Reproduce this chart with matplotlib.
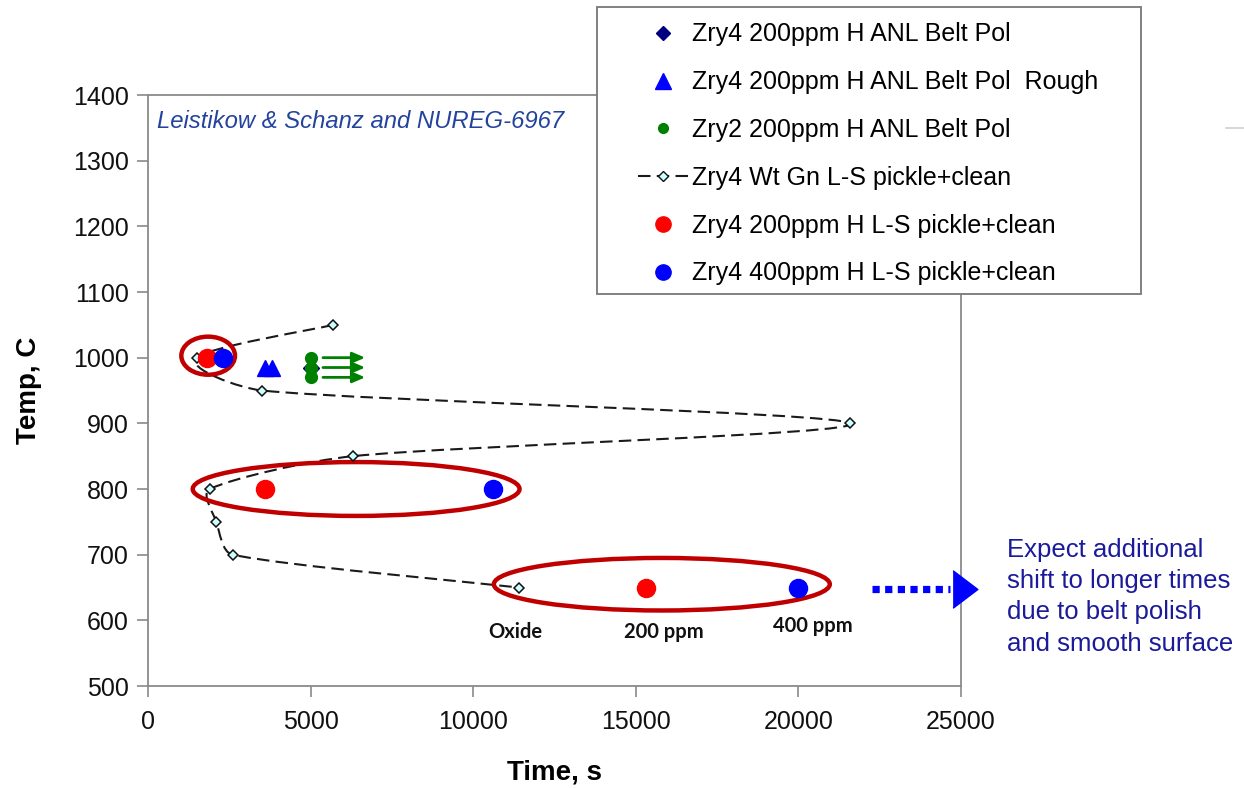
import numpy as np
import matplotlib
matplotlib.use("Agg")
import matplotlib.pyplot as plt
from matplotlib.lines import Line2D
from matplotlib.patches import Ellipse, PathPatch, Rectangle
from matplotlib.path import Path

plt.rcParams['font.family'] = ['Liberation Sans', 'DejaVu Sans']

# data
belt_pol_t = [5000]
belt_pol_T = [985]
belt_rough_t = [3600, 3800]
belt_rough_T = [985, 985]
zry2_t = [5000, 5000, 5000]
zry2_T = [1000, 985, 970]
wtgn_t = [5700, 1500, 3500, 21600, 6300, 1900, 2100, 2600, 11400]
wtgn_T = [1050, 1000, 950, 900, 850, 800, 750, 700, 650]
h200_t = [1800, 3600, 15300]
h200_T = [1000, 800, 650]
h400_t = [2300, 10600, 20000]
h400_T = [1000, 800, 650]

labels = ["Zry4 200ppm H ANL Belt Pol", "Zry4 200ppm H ANL Belt Pol  Rough",
          "Zry2 200ppm H ANL Belt Pol", "Zry4 Wt Gn L-S pickle+clean",
          "Zry4 200ppm H L-S pickle+clean", "Zry4 400ppm H L-S pickle+clean"]

# circled groups: centre time, centre temp, width, height
ring_t = [1850, 6400, 15800]
ring_T = [1003, 800, 655]
ring_w = [1650, 10050, 10330]
ring_h = [58, 82, 80]

ppm_text = ["Oxide", "200 ppm", "400 ppm"]
ppm_t = [11300, 15850, 20450]
ppm_T = [598, 598, 607]

W, H = 1244, 788
fig = plt.figure(figsize=(W / 100, H / 100), dpi=100)
ax = fig.add_axes([148 / W, 1 - 686 / H, (961 - 148) / W, (686 - 95) / H])
ax.set_xlim(0, 25000)
ax.set_ylim(500, 1400)
ax.set_xticks(np.arange(0, 25001, 5000))
ax.set_yticks(np.arange(500, 1401, 100))
for s in ax.spines.values():
    s.set_color('#8a8a8a')
    s.set_linewidth(1.3)
ax.tick_params(axis='both', direction='out', length=8, width=1.2, color='#8a8a8a',
               labelsize=18, labelcolor='#111111')
ax.tick_params(axis='x', pad=9)
ax.tick_params(axis='y', pad=6)

ax.set_xlabel("Time, s", fontsize=20, fontweight='bold')
ax.xaxis.label.set_va('center')
ax.xaxis.set_label_coords(0.5, -0.147)
ax.set_ylabel("Temp, C", fontsize=20, fontweight='bold')
ax.yaxis.label.set_va('center')
ax.yaxis.set_label_coords(-0.146, 0.5)

# smoothed dashed weight-gain curve: bezier through the points in display space,
# tangent handles clamped so short segments do not bulge
pts = ax.transData.transform(np.column_stack([wtgn_t, wtgn_T]))
n = len(pts)


def handle(i, seg_len):
    d = (pts[min(i + 1, n - 1)] - pts[max(i - 1, 0)]) / 6
    m = np.hypot(*d)
    lim = 0.3 * seg_len
    return d * (lim / m) if m > lim else d


verts = [pts[0]]
codes = [Path.MOVETO]
for i in range(n - 1):
    p1, p2 = pts[i], pts[i + 1]
    L = np.hypot(*(p2 - p1))
    verts += [p1 + handle(i, L), p2 - handle(i + 1, L), p2]
    codes += [Path.CURVE4] * 3
verts = ax.transData.inverted().transform(np.array(verts))
curve = PathPatch(Path(verts, codes), fill=False, edgecolor='#1a1a1a', lw=1.5,
                  linestyle=(0, (6, 3)), zorder=2)
ax.add_patch(curve)
ax.plot(wtgn_t, wtgn_T, ls='none', marker='D', ms=5, mfc='#ccffff', mec='#111111',
        mew=1.1, zorder=3)

for t, T, w, h in zip(ring_t, ring_T, ring_w, ring_h):
    ax.add_patch(Ellipse((t, T), w, h, fill=False, edgecolor='#c00000', lw=3.2, zorder=2.5))

ax.plot(belt_pol_t, belt_pol_T, ls='none', marker='D', ms=8, color='#000080', zorder=3)
ax.plot(belt_rough_t, belt_rough_T, ls='none', marker='^', ms=12, color='#0000ff', zorder=3)
ax.plot(zry2_t, zry2_T, ls='none', marker='o', ms=8.5, color='#008000', zorder=4)
ax.plot(h200_t, h200_T, ls='none', marker='o', ms=13, color='#ff0000', zorder=4)
ax.plot(h400_t, h400_T, ls='none', marker='o', ms=13, color='#0000ff', zorder=4)

# green arrows from the Zry2 points
for t, T in zip(zry2_t, zry2_T):
    ax.annotate('', xy=(t + 1680, T), xytext=(t + 380, T),
                arrowprops=dict(arrowstyle='-|>,head_length=0.75,head_width=0.32',
                                color='#008000', lw=2, shrinkA=0, shrinkB=0), zorder=4)

for s, t, T in zip(ppm_text, ppm_t, ppm_T):
    ax.text(t, T, s, ha='center', va='top', fontsize=14.5, fontweight='bold',
            family=['Lato', 'DejaVu Sans'], color='#111111')

ax.text(0.011, 0.975, "Leistikow & Schanz and NUREG-6967", transform=ax.transAxes,
        ha='left', va='top', fontsize=17.2, style='italic', color='#24439c')

# blue dotted arrow pointing past the axis
ax.plot([22250, 24650], [647, 647], ls=(0, (1, 0.75)), lw=5.2, color='#0000ff',
        dash_capstyle='butt', clip_on=False, zorder=4)
ax.plot([25130], [647], ls='none', marker=[(-0.66, -1), (0.66, 0), (-0.66, 1)],
        ms=27, color='#0000ff', clip_on=False, zorder=4)

fig.text(1007 / W, 1 - 538 / H,
         "Expect additional\nshift to longer times\ndue to belt polish\nand smooth surface",
         ha='left', va='top', fontsize=18.5, color='#1a1a9a', linespacing=1.38)

# legend (box drawn separately so it can sit over the axes frame)
handles = [
    Line2D([], [], ls='none', marker='D', ms=7, color='#000080'),
    Line2D([], [], ls='none', marker='^', ms=11, color='#0000ff'),
    Line2D([], [], ls='none', marker='o', ms=7, color='#008000'),
    Line2D([], [], ls=(0, (6, 3)), lw=1.5, color='#1a1a1a', marker='D', ms=5,
           mfc='#ccffff', mec='#111111', mew=1.0),
    Line2D([], [], ls='none', marker='o', ms=11, color='#ff0000'),
    Line2D([], [], ls='none', marker='o', ms=11, color='#0000ff'),
]
fig.patches.append(Rectangle((597 / W, 1 - 294 / H), (1141 - 597) / W, (294 - 7) / H,
                             transform=fig.transFigure, facecolor='white', edgecolor='#777777',
                             lw=1.3, zorder=5))
leg = fig.legend(handles, labels, loc='upper left', bbox_to_anchor=(620 / W, 1 - 5 / H),
                 frameon=False, fontsize=18, handlelength=2.0, handletextpad=0.2,
                 labelspacing=0.95, borderpad=0.2, numpoints=1)

fig.add_artist(Line2D([1226 / W, 1244 / W], [1 - 128 / H, 1 - 128 / H],
                      transform=fig.transFigure, color='#d0d0d0', lw=1.2))

fig.savefig("out.png", dpi=100)
